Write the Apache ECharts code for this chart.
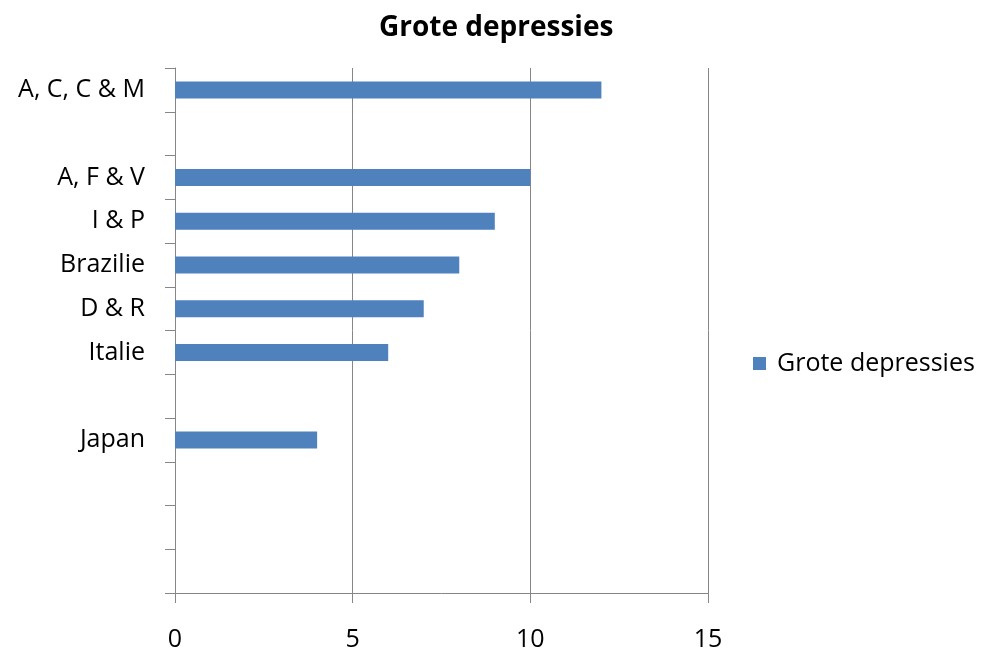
<!DOCTYPE html>
<html>
<head>
<meta charset="utf-8">
<script src="https://cdn.jsdelivr.net/npm/echarts@6/dist/echarts.min.js"></script>
<style>html,body{margin:0;padding:0;background:#fff}#c{width:982px;height:652px}</style>
</head>
<body>
<div id="c"></div>
<script>
var categories = ['A, C, C & M', ' ', 'A, F & V', 'I & P', 'Brazilie', 'D & R', 'Italie', '  ', 'Japan', '   ', '    ', '     '];
var values = [12, null, 10, 9, 8, 7, 6, null, 4, null, null, null];
var xTicks = [0, 5, 10, 15];
var seriesName = 'Grote depressies';
var titleText = 'Grote depressies';

var chart = echarts.init(document.getElementById('c'));
var font = '"Open Sans", sans-serif';
chart.setOption({
  animation: false,
  title: {
    text: titleText, left: 374, top: 9,
    textStyle: {fontFamily: font, fontSize: 28, fontWeight: 'bold', color: '#000'}
  },
  legend: {
    data: [seriesName], left: 748, top: 346, icon: 'rect', itemWidth: 13, itemHeight: 13, itemGap: 12,
    textStyle: {fontFamily: font, fontSize: 25, color: '#000', padding: [0, 0, 0, 6]}
  },
  grid: {left: 175, right: 274, top: 68, bottom: 59, containLabel: false},
  xAxis: {
    type: 'value', min: xTicks[0], max: xTicks[xTicks.length - 1], interval: 5,
    axisLine: {show: true, lineStyle: {color: '#868686'}},
    axisTick: {show: true, length: 10, lineStyle: {color: '#868686'}},
    splitLine: {show: true, lineStyle: {color: '#868686'}},
    axisLabel: {fontFamily: font, fontSize: 25, color: '#000', margin: 34}
  },
  yAxis: {
    type: 'category', inverse: true, data: categories,
    axisLine: {show: true, lineStyle: {color: '#868686'}},
    axisTick: {show: true, length: 10, lineStyle: {color: '#868686'}},
    axisLabel: {fontFamily: font, fontSize: 25, color: '#000', margin: 30}
  },
  series: [{
    name: seriesName, type: 'bar', data: values, barWidth: 17,
    itemStyle: {color: '#4F81BD'}
  }]
});
</script>
</body>
</html>
